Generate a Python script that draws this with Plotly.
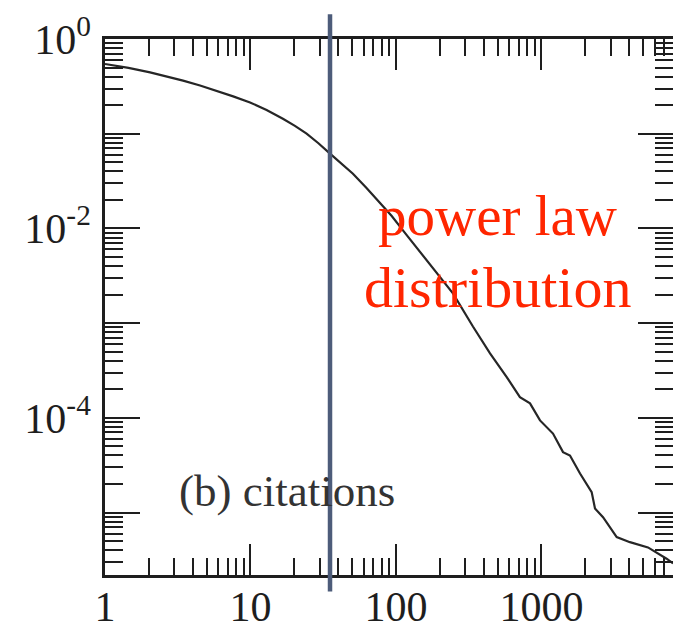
import plotly.graph_objects as go

# Cumulative citation distribution
citations = [1, 1.45, 2.04, 2.65, 3.44, 4.5, 5.86, 7.6, 9.93, 12.9, 16.7, 20.2,
             24.3, 29.3, 35.2, 42.3, 50.6, 62.5, 77.6, 93.5, 112, 135, 163,
             200, 247, 338, 443, 577, 711, 834, 977, 1200, 1406, 1570, 1841,
             2213, 2333, 2649, 3289, 4055, 5395, 7244, 8017]
probability = [0.545, 0.495, 0.444, 0.404, 0.363, 0.323, 0.284, 0.248, 0.214,
               0.178, 0.144, 0.121, 0.100, 0.0793, 0.0615, 0.0482, 0.0378,
               0.0268, 0.0188, 0.0135, 0.00948, 0.00660, 0.00457, 0.00310,
               0.00205, 9.20e-4, 4.78e-4, 2.69e-4, 1.65e-4, 1.42e-4, 9.38e-5,
               6.82e-5, 4.34e-5, 4.00e-5, 2.58e-5, 1.64e-5, 1.10e-5, 8.93e-6,
               5.50e-6, 4.86e-6, 4.28e-6, 3.25e-6, 2.90e-6]

# Where the tail starts behaving like a power law
cutoff = 35.2

x_tick_vals = [1, 10, 100, 1000]
x_tick_text = ["1", "10", "100", "1000"]
y_tick_vals = [1, 1e-1, 1e-2, 1e-3, 1e-4, 1e-5]
y_tick_text = ["10<sup>0</sup>", "", "10<sup>-2</sup>", "", "10<sup>-4</sup>", ""]

serif = "Liberation Serif"
ink = "#1e1e1e"

fig = go.Figure()
fig.add_trace(go.Scatter(
    x=citations, y=probability, mode="lines",
    line=dict(color="#262626", width=2.2),
    hoverinfo="skip", showlegend=False,
))

fig.add_shape(type="line", xref="x", yref="paper",
              x0=cutoff, x1=cutoff, y0=-0.031, y1=1.046,
              line=dict(color="#4d5c7a", width=4.5), layer="above")

fig.add_annotation(text="(b) citations", xref="paper", yref="paper",
                   x=0.126, y=0.156, xanchor="left", yanchor="middle",
                   showarrow=False, font=dict(family=serif, size=45, color="#333333"))
fig.add_annotation(text="power law", xref="paper", yref="paper",
                   x=0.691, y=0.67, xanchor="center", yanchor="middle",
                   showarrow=False, font=dict(family=serif, size=57, color="#ff2600"))
fig.add_annotation(text="distribution", xref="paper", yref="paper",
                   x=0.691, y=0.537, xanchor="center", yanchor="middle",
                   showarrow=False, font=dict(family=serif, size=58, color="#ff2600"))

axis_common = dict(
    type="log", showgrid=False, zeroline=False, automargin=False,
    showline=True, linecolor=ink, linewidth=2.5, mirror="allticks",
    ticks="inside", tickcolor=ink, tickwidth=2.3,
    tickmode="array", tickfont=dict(family=serif, size=42, color=ink),
)

fig.update_xaxes(**axis_common, range=[0, 3.904], tickvals=x_tick_vals,
                 ticktext=x_tick_text, ticklen=31, ticklabelstandoff=-7,
                 minor=dict(ticks="inside", dtick="D1", ticklen=17,
                            tickwidth=2.3, tickcolor=ink, showgrid=False))
fig.update_yaxes(**axis_common, range=[-5.66, 0], tickvals=y_tick_vals,
                 ticktext=y_tick_text, ticklen=35, ticklabelstandoff=3,
                 minor=dict(ticks="inside", dtick="D1", ticklen=18,
                            tickwidth=2.3, tickcolor=ink, showgrid=False))

fig.update_layout(
    width=673, height=628,
    margin=dict(l=105, r=0, t=39, b=53),
    paper_bgcolor="white", plot_bgcolor="white",
)

fig.write_html("out.html")
